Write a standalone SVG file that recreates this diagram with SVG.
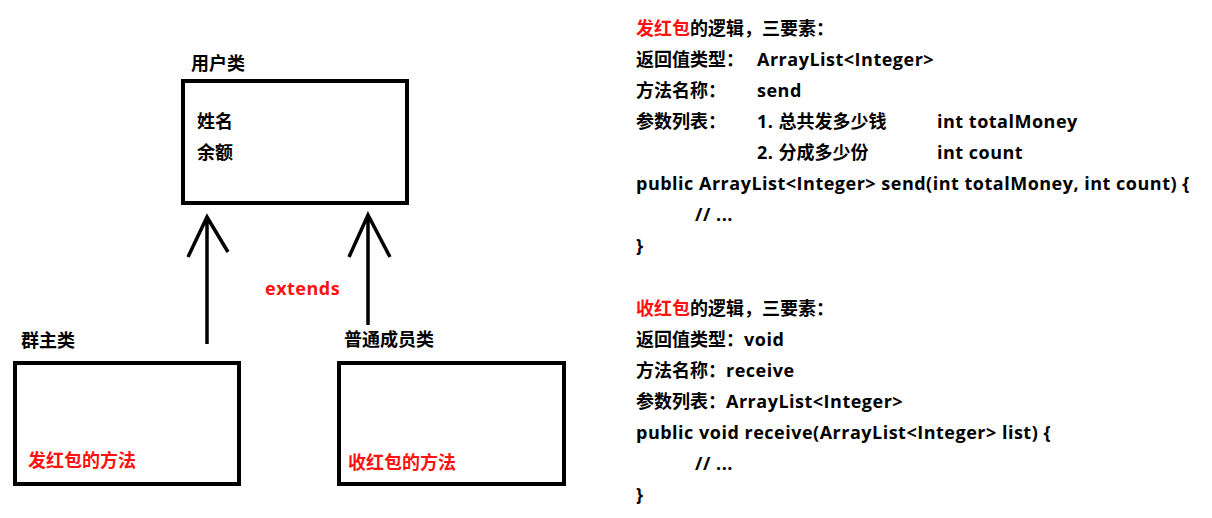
<svg xmlns="http://www.w3.org/2000/svg" width="1212" height="518" viewBox="0 0 1212 518">
<style>
text{font-family:"Open Sans","Noto Sans CJK SC",sans-serif;font-weight:bold;font-size:18px;fill:#000}
.l{letter-spacing:0.5px}
.r{fill:#ff1111}
.box{fill:#fff;stroke:#000;stroke-width:4}
.ln{fill:none;stroke:#000;stroke-width:3.5;stroke-linecap:butt}
</style>
<rect width="1212" height="518" fill="#fff"/>
<g id="user">
<text x="191" y="70">用户类</text>
<rect class="box" x="183" y="81" width="224" height="122"/>
<text x="197" y="128">姓名</text>
<text x="197" y="159">余额</text>
</g>
<g id="owner">
<text x="21" y="347">群主类</text>
<rect class="box" x="15" y="363" width="224" height="121"/>
<text class="r" x="28" y="467">发红包的方法</text>
</g>
<g id="member">
<text x="344" y="346">普通成员类</text>
<rect class="box" x="339" y="363" width="225" height="121"/>
<text class="r" x="348" y="469">收红包的方法</text>
</g>
<g id="connectors">
<path class="ln" d="M207 344V217M188 257L207 217L228 252"/>
<path class="ln" d="M368 325V215M349 257L368 215L390 257"/>
<text class="r l" x="265" y="295">extends</text>
</g>
<g id="notes">
<text x="636" y="35"><tspan class="r">发红包</tspan>的逻辑，三要素：</text>
<text x="636" y="66">返回值类型：</text><text class="l" x="757" y="66">ArrayList&lt;Integer&gt;</text>
<text x="636" y="97">方法名称：</text><text class="l" x="757" y="97">send</text>
<text x="636" y="128">参数列表：</text><text x="757" y="128"><tspan class="l">1. </tspan>总共发多少钱</text><text class="l" x="937" y="128">int totalMoney</text>
<text x="757" y="159"><tspan class="l">2. </tspan>分成多少份</text><text class="l" x="937" y="159">int count</text>
<text class="l" x="636" y="190">public ArrayList&lt;Integer&gt; send(int totalMoney, int count) {</text>
<text class="l" x="695" y="221">// ...</text>
<text x="636" y="252">}</text>
<text x="636" y="315"><tspan class="r">收红包</tspan>的逻辑，三要素：</text>
<text x="636" y="346">返回值类型：<tspan class="l">void</tspan></text>
<text x="636" y="377">方法名称：<tspan class="l">receive</tspan></text>
<text x="636" y="408">参数列表：<tspan class="l">ArrayList&lt;Integer&gt;</tspan></text>
<text class="l" x="636" y="439">public void receive(ArrayList&lt;Integer&gt; list) {</text>
<text class="l" x="695" y="470">// ...</text>
<text x="636" y="501">}</text>
</g>
</svg>
